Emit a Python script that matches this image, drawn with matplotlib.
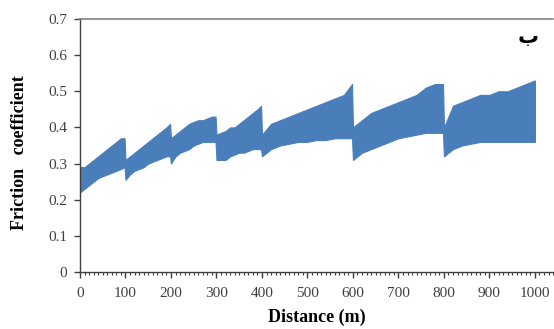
import numpy as np
import matplotlib
matplotlib.use("Agg")
from matplotlib import pyplot as plt
from matplotlib.ticker import MultipleLocator

# distance (m) and upper / lower envelope of the friction coefficient band
distance = [0, 10, 20, 30, 40, 50, 60, 70, 80, 90, 98,
            100, 110, 120, 130, 140, 150, 160, 170, 180, 190, 198,
            200, 210, 220, 230, 240, 250, 260, 270, 280, 290, 298,
            300, 310, 320, 330, 340, 350, 360, 370, 380, 390, 398,
            400, 420, 440, 460, 480, 500, 520, 540, 560, 580, 598,
            600, 620, 640, 660, 680, 700, 720, 740, 760, 780, 798,
            800, 820, 840, 860, 880, 900, 920, 940, 960, 980, 1000]
upper = [0.29, 0.29, 0.30, 0.31, 0.32, 0.33, 0.34, 0.35, 0.36, 0.37, 0.37,
         0.31, 0.32, 0.33, 0.34, 0.35, 0.36, 0.37, 0.38, 0.39, 0.40, 0.41,
         0.37, 0.38, 0.39, 0.40, 0.41, 0.415, 0.42, 0.42, 0.425, 0.43, 0.43,
         0.38, 0.385, 0.39, 0.40, 0.40, 0.41, 0.42, 0.43, 0.44, 0.45, 0.46,
         0.38, 0.41, 0.42, 0.43, 0.44, 0.45, 0.46, 0.47, 0.48, 0.49, 0.52,
         0.40, 0.42, 0.44, 0.45, 0.46, 0.47, 0.48, 0.49, 0.51, 0.52, 0.52,
         0.40, 0.46, 0.47, 0.48, 0.49, 0.49, 0.50, 0.50, 0.51, 0.52, 0.53]
lower = [0.22, 0.23, 0.24, 0.25, 0.26, 0.265, 0.27, 0.275, 0.28, 0.285, 0.29,
         0.255, 0.27, 0.28, 0.285, 0.29, 0.30, 0.305, 0.31, 0.315, 0.32, 0.32,
         0.30, 0.32, 0.33, 0.335, 0.34, 0.35, 0.355, 0.36, 0.36, 0.36, 0.36,
         0.31, 0.31, 0.31, 0.32, 0.325, 0.33, 0.33, 0.335, 0.34, 0.34, 0.34,
         0.32, 0.34, 0.35, 0.355, 0.36, 0.36, 0.365, 0.365, 0.37, 0.37, 0.37,
         0.31, 0.33, 0.34, 0.35, 0.36, 0.37, 0.375, 0.38, 0.385, 0.385, 0.385,
         0.32, 0.34, 0.35, 0.355, 0.36, 0.36, 0.36, 0.36, 0.36, 0.36, 0.36]

blue = "#4a7ebb"

fig = plt.figure(figsize=(5.54, 3.29), dpi=100)
ax = fig.add_axes([0.1444, 0.1733, 0.854, 0.769])

ax.fill_between(distance, lower, upper, color=blue, lw=0.8, edgecolor=blue)

ax.set_xlim(0, 1040)
ax.set_ylim(0, 0.7)
ax.xaxis.set_major_locator(MultipleLocator(100))
ax.xaxis.set_minor_locator(MultipleLocator(10))
ax.yaxis.set_major_locator(MultipleLocator(0.1))
ax.yaxis.set_major_formatter(plt.FuncFormatter(lambda v, p: "0" if v == 0 else f"{v:.1f}"))

ax.spines["right"].set_visible(False)
ax.spines["top"].set_color("#808080")
ax.spines["top"].set_linewidth(1.2)
for s in ("left", "bottom"):
    ax.spines[s].set_color("#404040")
    ax.spines[s].set_linewidth(1.0)

ax.tick_params(axis="both", which="major", direction="out", length=4, width=1,
               color="#404040", labelsize=11, labelcolor="#404040")
ax.tick_params(axis="x", which="major", pad=7)
ax.tick_params(axis="y", which="major", pad=5)
ax.tick_params(axis="x", which="minor", direction="out", length=2.5, width=0.8,
               color="#404040")
for lab in ax.get_xticklabels() + ax.get_yticklabels():
    lab.set_family("Liberation Serif")

ax.set_xlabel("Distance (m)", family="Liberation Serif", fontweight="bold",
              fontsize=13, labelpad=6)
ax.set_ylabel("Friction   coefficient", family="Liberation Serif",
              fontweight="bold", fontsize=13)
ax.yaxis.set_label_coords(-0.11, 0.47)

fig.text(528 / 554, 1 - 43 / 329, "ب", ha="center", va="baseline",
         family="DejaVu Sans", fontweight="bold", fontsize=15)

fig.savefig("out.png", dpi=100)
